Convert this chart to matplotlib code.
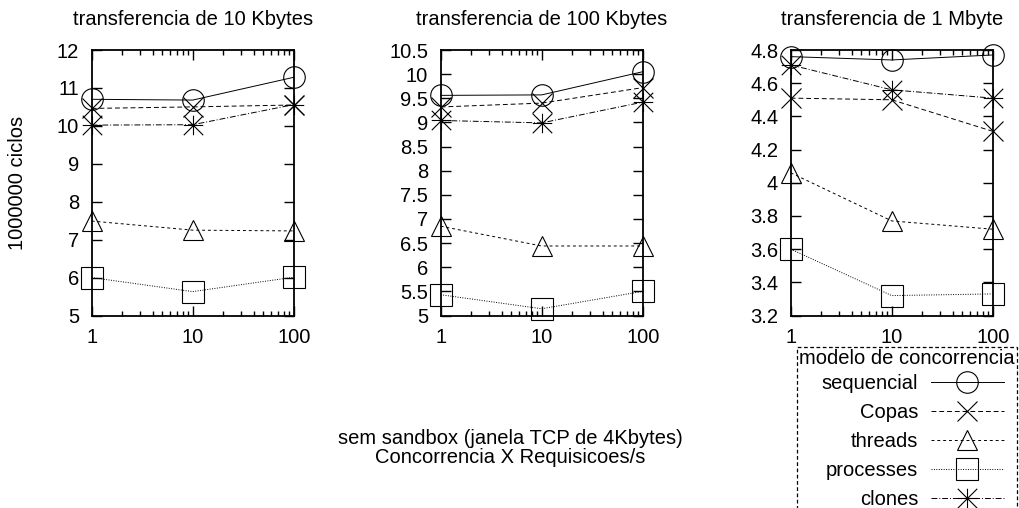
import matplotlib
matplotlib.use("Agg")
import matplotlib.pyplot as plt
from matplotlib.path import Path
from matplotlib.ticker import FuncFormatter, MultipleLocator, LogLocator, NullFormatter
from matplotlib.lines import Line2D
from matplotlib.offsetbox import DrawingArea

plt.rcParams['font.family'] = ['Liberation Sans', 'DejaVu Sans']

# ---- data ----
concurrency = [1, 10, 100]
titles = ["transferencia de 10 Kbytes", "transferencia de 100 Kbytes", "transferencia de 1 Mbyte"]
series_names = ["sequencial", "Copas", "threads", "processes", "clones"]

seq_10k = [10.70, 10.68, 11.28]
copas_10k = [10.46, 10.50, 10.55]
threads_10k = [7.49, 7.25, 7.23]
processes_10k = [6.00, 5.63, 6.01]
clones_10k = [10.02, 10.03, 10.56]

seq_100k = [9.56, 9.57, 10.05]
copas_100k = [9.32, 9.40, 9.72]
threads_100k = [6.85, 6.44, 6.44]
processes_100k = [5.43, 5.14, 5.50]
clones_100k = [9.04, 8.99, 9.42]

seq_1m = [4.76, 4.74, 4.77]
copas_1m = [4.51, 4.50, 4.31]
threads_1m = [4.06, 3.77, 3.72]
processes_1m = [3.60, 3.32, 3.33]
clones_1m = [4.71, 4.56, 4.51]

ylims = [(5, 12), (5, 10.5), (3.2, 4.8)]
ysteps = [1, 0.5, 0.2]

panels = [
    [seq_10k, copas_10k, threads_10k, processes_10k, clones_10k],
    [seq_100k, copas_100k, threads_100k, processes_100k, clones_100k],
    [seq_1m, copas_1m, threads_1m, processes_1m, clones_1m],
]

# asterisk marker (+ and x combined)
ast = Path([(-1, 0), (1, 0), (0, -1), (0, 1), (-1, -1), (1, 1), (-1, 1), (1, -1)],
           [Path.MOVETO, Path.LINETO] * 4)

styles = [
    dict(ls='-', marker='o', ms=15.5),
    dict(ls=(0, (5, 3)), marker='x', ms=14),
    dict(ls=(0, (3, 3)), marker='^', ms=15),
    dict(ls=(0, (1, 1.5)), marker='s', ms=16),
    dict(ls=(0, (6, 2, 1, 2)), marker=ast, ms=14),
]

FS = 14.5
W, H = 1019, 508
fig = plt.figure(figsize=(W / 100, H / 100), dpi=100)

lefts = [91.7, 440.7, 790.7]
ax_w = 202
top, bottom = 50, 315.5
fmt = FuncFormatter(lambda v, p: '%g' % round(v, 6))

axes = []
for i in range(3):
    ax = fig.add_axes([lefts[i] / W, 1 - bottom / H, ax_w / W, (bottom - top) / H])
    axes.append(ax)
    for name, vals, st in zip(series_names, panels[i], styles):
        ax.plot(concurrency, vals, color='black', lw=0.7, ls=st['ls'],
                marker=st['marker'], ms=st['ms'], mfc='none', mec='black',
                mew=0.8, clip_on=False, label=name)
    ax.set_xscale('log')
    ax.set_xlim(1, 100)
    ax.set_ylim(*ylims[i])
    ax.yaxis.set_major_locator(MultipleLocator(ysteps[i]))
    ax.yaxis.set_major_formatter(fmt)
    ax.xaxis.set_major_locator(LogLocator(base=10))
    ax.xaxis.set_minor_locator(LogLocator(base=10, subs=range(2, 10)))
    ax.xaxis.set_minor_formatter(NullFormatter())
    ax.xaxis.set_major_formatter(fmt)
    ax.tick_params(which='major', direction='in', length=7, width=1.0,
                   top=True, right=True, labelsize=FS)
    ax.tick_params(which='minor', direction='in', length=3.5, width=1.0,
                   top=True, right=True)
    ax.tick_params(axis='x', which='major', pad=9)
    ax.tick_params(axis='y', which='major', pad=9)
    for s in ax.spines.values():
        s.set_linewidth(1.3)
    ax.set_title(titles[i], fontsize=FS, pad=18)

fig.text(18 / W, 1 - 183 / H, "1000000 ciclos", rotation=90, ha='center', va='center', fontsize=FS)
fig.text(510 / W, 1 - 448 / H, "sem sandbox (janela TCP de 4Kbytes)\nConcorrencia X Requisicoes/s",
         ha='center', va='center', fontsize=FS, multialignment='center', linespacing=1.05)

handles, labels = axes[2].get_legend_handles_labels()
leg = fig.legend(handles, labels, title="modelo de concorrencia", loc='upper left',
                 bbox_to_anchor=(797 / W, 1 - 347 / H), markerfirst=False,
                 fontsize=FS, title_fontsize=FS, handlelength=3.6, handletextpad=0.65,
                 labelspacing=0.5, borderpad=0.1, borderaxespad=0, fancybox=False,
                 edgecolor='black', framealpha=1, alignment='right')
leg.get_frame().set_linestyle((0, (3, 2)))
leg.get_frame().set_linewidth(0.9)
# tighten the gap between the title and the first entry
leg._legend_box.sep = 0.5 * FS - 4 * 72 / 100
# keep a small blank margin to the right of the entries
leg._legend_handle_box.sep = 11 * 72 / 100
leg._legend_handle_box._children.append(DrawingArea(0, 0))

fig.canvas.draw()
r = fig.canvas.get_renderer()
tb = leg.get_title().get_window_extent(r)
fb = leg.get_frame().get_window_extent(r)
ysep = (tb.y0 - 2) / H
fig.add_artist(Line2D([fb.x0 / W, fb.x1 / W], [ysep, ysep], transform=fig.transFigure,
                      color='black', lw=0.9, ls=(0, (3, 2))))

fig.savefig("out.png", dpi=100)
